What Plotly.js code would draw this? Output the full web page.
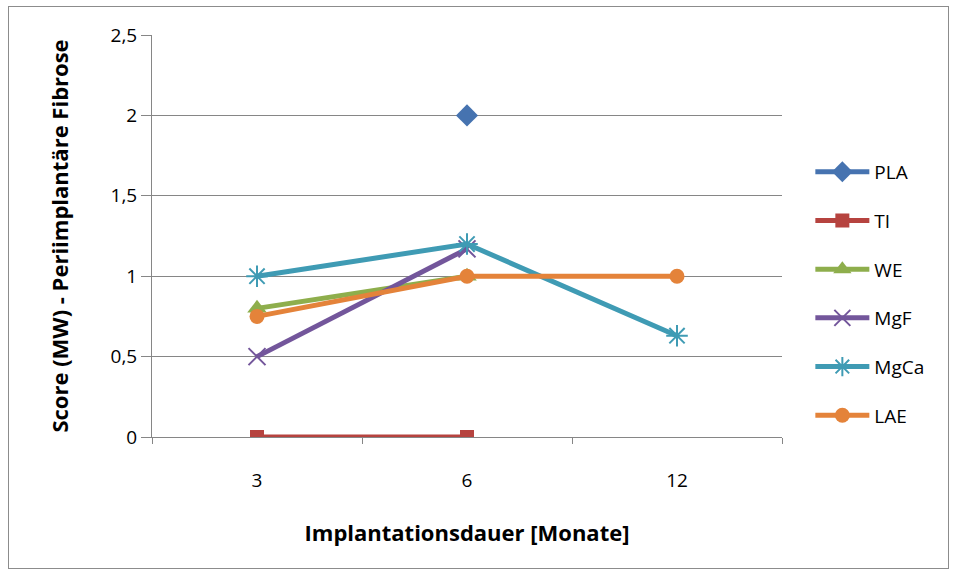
<!DOCTYPE html>
<html>
<head>
<meta charset="utf-8">
<script src="https://cdn.plot.ly/plotly-3.0.1.min.js"></script>
<style>
  html, body { margin: 0; padding: 0; background: #ffffff; }
  #frame { position: absolute; left: 8px; top: 6px; width: 941px; height: 563px;
           border: 1px solid #8c8c8c; box-sizing: border-box; pointer-events: none; z-index: 5; }
  #chart { width: 958px; height: 577px; }
</style>
</head>
<body>
<div id="frame"></div>
<div id="chart"></div>
<script>
// Implantation periods (months)
const months = ['3', '6', '12'];

// Mean fibrosis scores per material
const PLA  = [null, 2,    null];
const TI   = [0,    0,    null];
const WE   = [0.8,  1,    null];
const MgF  = [0.5,  1.17, null];
const MgCa = [1,    1.2,  0.63];
const LAE  = [0.75, 1,    1];

const seriesNames = ['PLA', 'TI', 'WE', 'MgF', 'MgCa', 'LAE'];
const seriesValues = [PLA, TI, WE, MgF, MgCa, LAE];
const colors = ['#4673b0', '#b6433f', '#8eae4c', '#73569b', '#3f9bb4', '#e4833a'];
const symbols = ['diamond', 'square', 'triangle-up', 'x-thin-open', 'asterisk-open', 'circle'];
const sizes = [17, 14, 17, 17, 18, 15];

const FONT = '"Open Sans", "Noto Sans", sans-serif';

const traces = seriesNames.map((name, i) => ({
  type: 'scatter',
  mode: 'lines+markers',
  name: name,
  legendgroup: name,
  x: months,
  y: seriesValues[i],
  connectgaps: false,
  line: { color: colors[i], width: 5 },
  marker: {
    symbol: symbols[i],
    size: sizes[i],
    color: colors[i],
    line: { color: colors[i], width: (symbols[i].indexOf('open') >= 0) ? 2 : 0 }
  }
}));

const layout = {
  width: 958,
  height: 577,
  margin: { l: 152, r: 176, t: 35, b: 140 },
  paper_bgcolor: '#ffffff',
  plot_bgcolor: '#ffffff',
  separators: ', ',
  font: { family: FONT, size: 19, color: '#000000' },
  showlegend: true,
  legend: {
    x: 1.045, xanchor: 'left', xref: 'paper',
    y: 0.356, yanchor: 'middle',
    tracegroupgap: 21,
    itemwidth: 54,
    font: { family: FONT, size: 19, color: '#000000' },
    bgcolor: 'rgba(0,0,0,0)'
  },
  xaxis: {
    type: 'category',
    categoryorder: 'array',
    categoryarray: months,
    range: [-0.5, 2.5],
    tickson: 'boundaries',
    ticks: 'outside',
    ticklen: 6,
    tickcolor: '#868686',
    tickwidth: 1,
    showgrid: false,
    showline: true,
    linecolor: '#868686',
    linewidth: 1,
    zeroline: false,
    ticklabelstandoff: 26,
    tickfont: { family: FONT, size: 19, color: '#000000' },
    title: { text: 'Implantationsdauer [Monate]', standoff: 33,
             font: { family: FONT, size: 22, color: '#000000', weight: 'bold' } },
    automargin: false
  },
  yaxis: {
    range: [0, 2.5],
    dtick: 0.5,
    tick0: 0,
    ticks: 'outside',
    ticklen: 10,
    tickcolor: '#868686',
    tickwidth: 1,
    showgrid: true,
    gridcolor: '#868686',
    gridwidth: 1,
    showline: true,
    linecolor: '#868686',
    linewidth: 1,
    zeroline: false,
    ticklabelstandoff: 0,
    tickfont: { family: FONT, size: 19, color: '#000000' },
    title: { text: 'Score (MW) - Periimplantäre Fibrose', standoff: 35,
             font: { family: FONT, size: 22, color: '#000000', weight: 'bold' } },
    automargin: false
  }
};

Plotly.newPlot('chart', traces, layout, { displayModeBar: false, staticPlot: true });
</script>
</body>
</html>
